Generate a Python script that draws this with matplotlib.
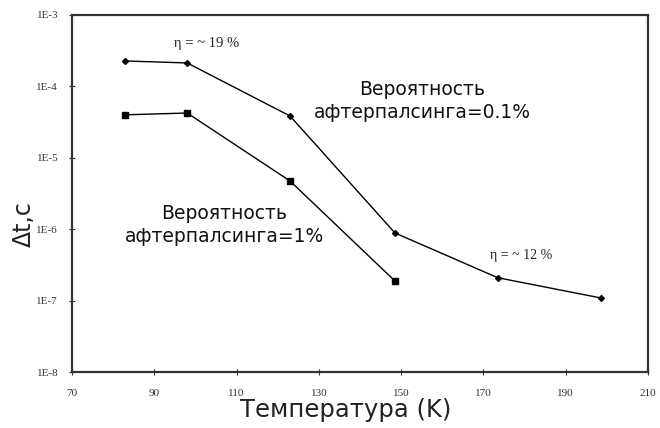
import matplotlib
matplotlib.use("Agg")
import matplotlib.pyplot as plt
from matplotlib.ticker import FixedLocator, NullLocator

# Temperature (K) and dead time Δt (s)
temp_01 = [83, 98, 123, 148.5, 173.5, 198.5]
dt_01 = [2.27e-4, 2.13e-4, 3.85e-5, 8.85e-7, 2.09e-7, 1.09e-7]

temp_1 = [83, 98, 123, 148.5]
dt_1 = [4.0e-5, 4.24e-5, 4.73e-6, 1.88e-7]

x_ticks = [70, 90, 110, 130, 150, 170, 190, 210]
y_ticks = [1e-8, 1e-7, 1e-6, 1e-5, 1e-4, 1e-3]
y_tick_labels = ["1E-8", "1E-7", "1E-6", "1E-5", "1E-4", "1E-3"]

label_01 = "Вероятность\nафтерпалсинга=0.1%"
label_1 = "Вероятность\nафтерпалсинга=1%"
eta_19 = "η = ~ 19 %"
eta_12 = "η = ~ 12 %"

fig = plt.figure(figsize=(6.6, 4.28), dpi=100)
ax = fig.add_axes([72 / 660, 1 - 372 / 428, 576 / 660, 357 / 428])

ax.plot(temp_01, dt_01, color="black", lw=1.0, marker="D", ms=3,
        mfc="black", mec="black")
ax.plot(temp_1, dt_1, color="black", lw=1.0, marker="s", ms=4,
        mfc="black", mec="black")

ax.set_yscale("log")
ax.set_xlim(70, 210)
ax.set_ylim(1e-8, 1e-3)

ax.xaxis.set_major_locator(FixedLocator(x_ticks))
ax.yaxis.set_major_locator(FixedLocator(y_ticks))
ax.yaxis.set_minor_locator(NullLocator())
ax.set_xticklabels([str(t) for t in x_ticks], family="Liberation Serif",
                   fontsize=8, color="#222222")
ax.set_yticklabels(y_tick_labels, family="Liberation Serif",
                   fontsize=8, color="#222222")
ax.tick_params(direction="inout", length=4, width=0.8, colors="#333333")
ax.tick_params(axis="x", pad=10)
ax.tick_params(axis="y", pad=8)

for side in ("left", "right", "top", "bottom"):
    ax.spines[side].set_linewidth(1.6)
    ax.spines[side].set_color("#333333")

fig.text(346 / 660, 1 - 410 / 428, "Температура (K)", family="DejaVu Sans",
         fontsize=17.5, color="#222222", ha="center", va="center")
fig.text(24 / 660, 1 - 224 / 428, "Δt,c", rotation=90, family="DejaVu Sans",
         fontsize=17, color="#222222", ha="center", va="center")

ax.text(0.608, 0.759, label_01, transform=ax.transAxes, ha="center",
        va="center", fontsize=13.5, family="DejaVu Sans", color="#111111",
        linespacing=1.25)
ax.text(0.264, 0.412, label_1, transform=ax.transAxes, ha="center",
        va="center", fontsize=13.5, family="DejaVu Sans", color="#111111",
        linespacing=1.25)
ax.text((207 - 72) / 576, 1 - (43 - 15) / 357, eta_19, transform=ax.transAxes,
        ha="center", va="center", fontsize=10.5, family="Liberation Serif",
        color="#222222")
ax.text((521 - 72) / 576, 1 - (255 - 15) / 357, eta_12, transform=ax.transAxes,
        ha="center", va="center", fontsize=10, family="Liberation Serif",
        color="#222222")

fig.savefig("out.png", dpi=100)
